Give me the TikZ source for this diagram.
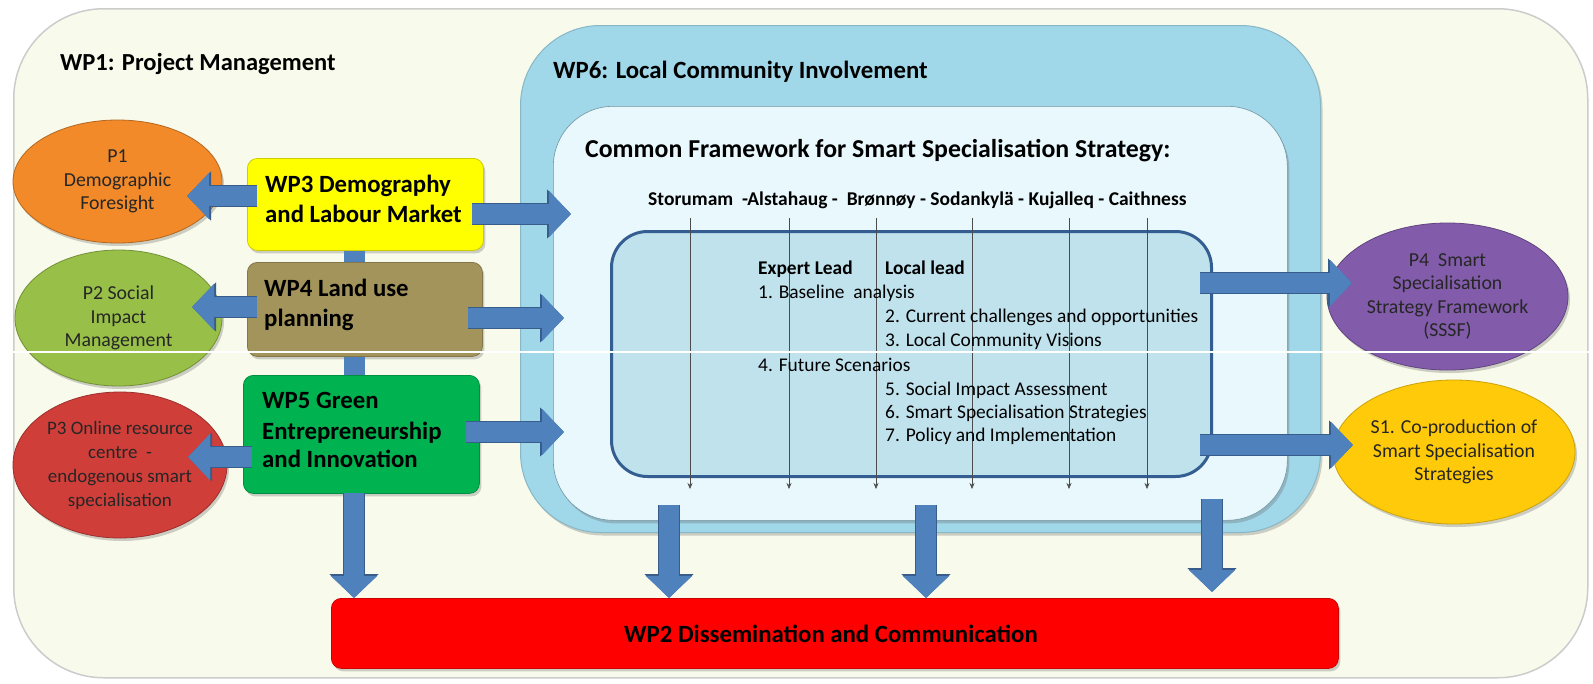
\documentclass[tikz,border=0pt]{standalone}
\usepackage{fontspec}
\setmainfont{Carlito}
\usetikzlibrary{arrows.meta,shapes.geometric,calc,shadows}
\definecolor{cream}{RGB}{248,250,235}
\definecolor{wpsix}{RGB}{160,215,233}
\definecolor{paleblue}{RGB}{232,248,252}
\definecolor{midblue}{RGB}{192,226,237}
\definecolor{darkblue}{RGB}{52,94,146}
\definecolor{arrowblue}{RGB}{79,129,189}
\definecolor{arrowdark}{RGB}{56,93,138}
\definecolor{yellowbox}{RGB}{255,255,0}
\definecolor{khaki}{RGB}{163,148,92}
\definecolor{greenbox}{RGB}{0,178,80}
\definecolor{orangeell}{RGB}{242,138,42}
\definecolor{greenell}{RGB}{152,192,72}
\definecolor{redell}{RGB}{208,62,58}
\definecolor{purpleell}{RGB}{130,92,170}
\definecolor{goldell}{RGB}{255,202,10}
\definecolor{redbar}{RGB}{255,0,0}
\newcommand\myfs[2]{\fontsize{#1}{#2}\selectfont}
\tikzset{
  softshadow/.style={drop shadow={shadow xshift=2pt, shadow yshift=-3pt, opacity=0.3, fill=black!60}},
  region/.style={rectangle, inner sep=0pt, anchor=north west},
  wpbox/.style={rectangle, rounded corners=10pt, inner sep=0pt, anchor=north west, line width=0.8pt, softshadow},
  txt/.style={anchor=base west, inner sep=0pt, text=black},
  boxtxt/.style={txt, font=\bfseries\myfs{24.8}{28}},
  ell/.style={ellipse, inner sep=0pt, align=center, line width=0.8pt, font=\myfs{19.8}{23.5}, text=black!85, softshadow},
  barrow/.style={line width=20pt, draw=arrowblue, -{Triangle[length=22pt,width=45pt]},
    preaction={draw=arrowdark, line width=22pt, -{Triangle[length=24pt,width=48pt]}}},
  bbar/.style={line width=21pt, draw=arrowblue},
  thinarrow/.style={draw=black!70, line width=0.6pt, -{Stealth[length=6pt,width=5pt]}},
}
\begin{document}
\begin{tikzpicture}[x=1pt,y=-1pt]
\fill[white] (0,0) rectangle (1593,683);
\useasboundingbox (0,0) rectangle (1593,683);
% containers
\node[region, fill=cream, draw=black!20, line width=1.5pt, rounded corners=90pt, minimum width=1574pt, minimum height=669pt] (wp1) at (13,8) {};
\node[txt, font=\bfseries\myfs{24.5}{28}] (wp1t) at (60,70) {WP1: Project Management};
\node[region, fill=wpsix, draw=wpsix!85!black, line width=1pt, rounded corners=80pt, minimum width=800pt, minimum height=507pt, softshadow] (wp6) at (520,25) {};
\node[txt, font=\bfseries\myfs{24.8}{28}] (wp6t) at (553,78) {WP6: Local Community Involvement};
\node[region, fill=paleblue, draw=wpsix!70!black, line width=0.6pt, rounded corners=60pt, minimum width=734pt, minimum height=414pt, softshadow] (cf) at (553,106) {};
\node[txt, font=\bfseries\myfs{25.8}{28}] (cft) at (585,157) {Common Framework for Smart Specialisation Strategy:};
\node[txt, font=\bfseries\myfs{19.5}{22}] (towns) at (648,205) {Storumam\ \ -Alstahaug -\ \ Brønnøy - Sodankylä - Kujalleq - Caithness};
\node[region, fill=midblue, draw=darkblue, line width=3pt, rounded corners=36pt, minimum width=600pt, minimum height=245pt] (steps) at (610,230) {};
% vertical thin arrows
\foreach \i/\xx in {1/690,2/789,3/876,4/972,5/1069,6/1147}{
  \coordinate (vt\i) at (\xx,218);
  \coordinate (vb\i) at (\xx,489);
  \draw[thinarrow] (vt\i) -- (vb\i);
}
% step texts
\begin{scope}[every node/.style={txt, font=\myfs{19.4}{22}}]
\node[font=\bfseries\myfs{19.4}{22}] (el) at (758,274) {Expert Lead};
\node[font=\bfseries\myfs{19.4}{22}] (ll) at (885,274) {Local lead};
\node (s1) at (758,298) {1. Baseline\ \ analysis};
\node (s2) at (885,322) {2. Current challenges and opportunities};
\node (s3) at (885,346) {3. Local Community Visions};
\node (s4) at (758,371) {4. Future Scenarios};
\node (s5) at (885,395) {5. Social Impact Assessment};
\node (s6) at (885,418) {6. Smart Specialisation Strategies};
\node (s7) at (885,441) {7. Policy and Implementation};
\end{scope}
% WP boxes
\node[wpbox, fill=yellowbox, draw=yellowbox!80!black, minimum width=236pt, minimum height=92pt] (wp3) at (247,158) {};
\node[boxtxt] (wp3a) at (265,192) {WP3 Demography};
\node[boxtxt] (wp3b) at (265,222) {and Labour Market};
\node[wpbox, fill=khaki, draw=khaki!80!black, minimum width=235pt, minimum height=94pt] (wp4) at (247,262) {};
\node[boxtxt] (wp4a) at (264,296) {WP4 Land use};
\node[boxtxt] (wp4b) at (264,326) {planning};
\node[wpbox, fill=greenbox, draw=greenbox!80!black, minimum width=236pt, minimum height=118pt] (wp5) at (243,375) {};
\node[boxtxt] (wp5a) at (262,408) {WP5 Green};
\node[boxtxt] (wp5b) at (262,439) {Entrepreneurship};
\node[boxtxt] (wp5c) at (262,467) {and Innovation};
% ellipses
\node[ell, fill=orangeell, draw=orangeell!75!black, minimum width=209pt, minimum height=123pt] (p1) at (117.5,181.5) {P1\\Demographic\\Foresight};
\node[ell, fill=greenell, draw=greenell!75!black, minimum width=207pt, minimum height=136pt] (p2) at (118.5,318) {P2 Social\\Impact\\Management};
\node[ell, fill=redell, draw=redell!75!black, minimum width=214pt, minimum height=146pt, font=\myfs{19}{24}] (p3) at (120,465) {P3 Online resource\\centre\ \ -\\endogenous smart\\specialisation};
\node[ell, fill=purpleell, draw=purpleell!75!black, minimum width=241pt, minimum height=147pt] (p4) at (1447.5,296.5) {P4\ \ Smart\\Specialisation\\Strategy Framework\\(SSSF)};
\node[ell, fill=goldell, draw=goldell!80!black, minimum width=242pt, minimum height=144pt] (so1) at (1454,452) {S1. Co-production of\\Smart Specialisation\\Strategies};
% WP2
\node[wpbox, fill=redbar, draw=redbar!80!black, minimum width=1007pt, minimum height=70pt] (wp2) at (331,598) {};
\node[font=\bfseries\myfs{24.8}{28}, inner sep=0pt] (wp2t) at (831,634) {WP2 Dissemination and Communication};
% connector bars between WP boxes
\draw[bbar] (wp3.south -| 354,0) -- (wp4.north -| 354,0);
\draw[bbar] (wp4.south -| 354,0) -- (wp5.north -| 354,0);
% arrows to the left
\coordinate (a1) at (257,196); \coordinate (a1t) at (187,196);
\coordinate (a2) at (257,307); \coordinate (a2t) at (192,307);
\coordinate (a3) at (252,457); \coordinate (a3t) at (188,457);
\draw[barrow] (a1) -- (a1t);
\draw[barrow] (a2) -- (a2t);
\draw[barrow] (a3) -- (a3t);
% arrows to the right into framework
\coordinate (b1) at (472,214); \coordinate (b1t) at (571,214);
\coordinate (b2) at (468,318); \coordinate (b2t) at (564,318);
\coordinate (b3) at (466,432); \coordinate (b3t) at (564,432);
\draw[barrow] (b1) -- (b1t);
\draw[barrow] (b2) -- (b2t);
\draw[barrow] (b3) -- (b3t);
% arrows out to P4 and S1
\coordinate (c1) at (1200,283); \coordinate (c1t) at (1352,283);
\coordinate (c2) at (1200,445); \coordinate (c2t) at (1353,445);
\draw[barrow] (c1) -- (c1t);
\draw[barrow] (c2) -- (c2t);
% down arrows into WP2
\coordinate (d0) at (354,493);
\coordinate (d1) at (669,505);
\coordinate (d2) at (926,505);
\coordinate (d3) at (1212,499);
\draw[barrow] (d0) -- (d0 |- wp2.north);
\draw[barrow] (d1) -- (d1 |- wp2.north);
\draw[barrow] (d2) -- (d2 |- wp2.north);
\draw[barrow] (d3) -- ([yshift=6pt]d3 |- wp2.north);
% scan line
\draw[white, line width=2pt] (0,352) -- (1593,352);
\end{tikzpicture}
\end{document}
